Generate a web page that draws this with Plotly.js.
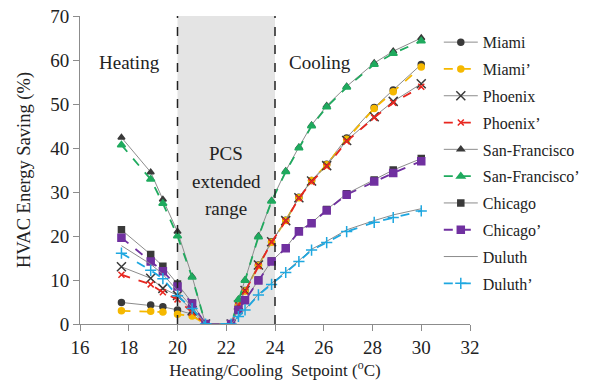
<!DOCTYPE html>
<html>
<head>
<meta charset="utf-8">
<script src="https://cdn.plot.ly/plotly-3.0.1.min.js"></script>
<style>html,body{margin:0;padding:0;background:#fff}#chart{width:589px;height:388px}</style>
</head>
<body>
<div id="chart"></div>
<script>
// Setpoints (°C): heating side then cooling side
const setpoints = [17.7, 18.9, 19.4, 20.0, 20.6, 21.15, 22.2, 22.5, 22.77, 23.32, 23.86, 24.44, 24.98, 25.5, 26.12, 26.94, 28.07, 28.85, 30.0];

const miami       = [4.9, 4.3, 3.9, 3.2, 2.2, 0, 0, 4.3, 7.6, 13.4, 18.7, 23.6, 28.8, 32.6, 36.3, 42.3, 49.2, 53.2, 59.0];
const miamiP      = [3.0, 2.9, 2.7, 2.2, 1.8, 0, 0, 4.2, 7.5, 13.3, 18.6, 23.5, 28.7, 32.6, 36.2, 42.0, 49.0, 52.8, 58.4];
const phoenix     = [13.0, 10.4, 8.1, 6.5, 3.0, 0, 0, 4.3, 7.6, 13.4, 18.7, 23.5, 28.7, 32.5, 36.0, 41.7, 47.1, 50.6, 54.6];
const phoenixP    = [11.2, 9.0, 7.2, 5.6, 2.6, 0, 0, 4.2, 7.4, 13.2, 18.6, 23.4, 28.6, 32.3, 35.8, 41.5, 46.9, 50.3, 53.9];
const sanFran     = [42.4, 34.5, 28.3, 21.0, 10.8, 0, 0, 5.6, 10.0, 20.0, 28.0, 34.8, 40.2, 45.2, 49.6, 54.0, 59.3, 62.0, 65.0];
const sanFranP    = [40.7, 32.9, 27.4, 20.0, 10.6, 0, 0, 5.5, 9.9, 19.8, 27.9, 34.6, 40.0, 45.0, 49.3, 53.8, 59.0, 61.5, 64.3];
const chicago     = [21.4, 15.8, 13.1, 9.1, 4.8, 0, 0, 3.3, 5.5, 10.0, 14.3, 17.3, 21.2, 23.0, 26.0, 29.6, 32.7, 35.0, 37.6];
const chicagoP    = [19.6, 14.2, 12.0, 8.5, 4.6, 0, 0, 3.2, 5.4, 9.9, 14.2, 17.2, 21.0, 22.9, 25.8, 29.4, 32.4, 34.3, 37.0];
const duluth      = [17.8, 13.6, 11.3, 7.6, 3.8, 0, 0, 1.8, 3.3, 6.8, 9.2, 11.9, 14.4, 17.0, 18.8, 21.4, 23.5, 24.8, 26.2];
const duluthP     = [16.1, 12.2, 10.3, 6.4, 3.5, 0, 0, 1.7, 3.2, 6.6, 9.0, 11.7, 14.2, 16.8, 18.5, 21.0, 23.1, 24.2, 25.7];

const xTicks = [16, 18, 20, 22, 24, 26, 28, 30, 32];
const yTicks = [0, 10, 20, 30, 40, 50, 60, 70];

const serif = 'Liberation Serif';
const solidGray = '#8c8c8c';
const dark = '#3a3a3a';

function tr(name, y, lineColor, dash, mSym, mColor, mSize, mode) {
  return {
    x: setpoints, y: y, name: name, legendgroup: name,
    mode: mode || 'lines+markers',
    line: {color: lineColor, width: dash === 'solid' ? 1 : 1.8, dash: dash},
    marker: {symbol: mSym, color: mColor, size: mSize, line: {color: mColor, width: 1.5}}
  };
}

const data = [
  tr('Miami', miami, solidGray, 'solid', 'circle', dark, 6),
  tr('Miami\u2019', miamiP, '#f5b800', 'dash', 'circle', '#f5b800', 6),
  tr('Phoenix', phoenix, solidGray, 'solid', 'x-thin-open', dark, 9),
  tr('Phoenix\u2019', phoenixP, '#e8261f', 'dash', 'x-thin-open', '#e8261f', 6),
  tr('San-Francisco', sanFran, solidGray, 'solid', 'triangle-up', dark, 6),
  tr('San-Francisco\u2019', sanFranP, '#1faa5e', 'dash', 'triangle-up', '#1faa5e', 7),
  tr('Chicago', chicago, solidGray, 'solid', 'square', dark, 6),
  tr('Chicago\u2019', chicagoP, '#7030a0', 'dash', 'square', '#7030a0', 7),
  tr('Duluth', duluth, solidGray, 'solid', 'circle', dark, 1, 'lines'),
  tr('Duluth\u2019', duluthP, '#1ea7e0', 'dash', 'cross-thin-open', '#1ea7e0', 8)
];

const layout = {
  width: 589, height: 388,
  margin: {l: 80, r: 119, t: 16, b: 64, autoexpand: false},
  paper_bgcolor: '#fff', plot_bgcolor: 'rgba(0,0,0,0)',
  font: {family: serif, color: '#222', size: 17},
  showlegend: true,
  legend: {x: 0.92, xanchor: 'left', y: 0.97, yanchor: 'top', bgcolor: 'rgba(0,0,0,0)',
           font: {family: serif, size: 16, color: '#222'}, tracegroupgap: 3, itemwidth: 34},
  xaxis: {range: [16, 32], tickvals: xTicks, ticktext: xTicks.map(String), showgrid: false, zeroline: false,
          showline: true, linecolor: '#8c8c8c', linewidth: 1, ticks: 'outside', ticklen: 6, tickcolor: '#8c8c8c',
          tickfont: {family: serif, size: 19, color: '#222'},
          title: {text: 'Heating/Cooling  Setpoint (<sup>o</sup>C)', font: {family: serif, size: 17, color: '#222'}, standoff: 2}},
  yaxis: {range: [0, 70], tickvals: yTicks, ticktext: yTicks.map(String), showgrid: false, zeroline: false,
          showline: true, linecolor: '#8c8c8c', linewidth: 1, ticks: 'outside', ticklen: 6, tickcolor: '#8c8c8c',
          tickfont: {family: serif, size: 19, color: '#222'},
          title: {text: 'HVAC Energy Saving (%)', font: {family: serif, size: 18.5, color: '#222'}, standoff: 14}},
  shapes: [
    {type: 'rect', xref: 'x', yref: 'y', x0: 20, x1: 24, y0: 0, y1: 70, fillcolor: '#e4e4e4', line: {width: 0}, layer: 'below'},
    {type: 'line', xref: 'x', yref: 'y', x0: 20, x1: 20, y0: 0, y1: 70, line: {color: '#222', width: 1.5, dash: 'dash'}},
    {type: 'line', xref: 'x', yref: 'y', x0: 24, x1: 24, y0: 0, y1: 70, line: {color: '#222', width: 1.5, dash: 'dash'}}
  ],
  annotations: [
    {x: 18.05, y: 59.5, xref: 'x', yref: 'y', text: 'Heating', showarrow: false, font: {family: serif, size: 19, color: '#222'}},
    {x: 25.85, y: 59.5, xref: 'x', yref: 'y', text: 'Cooling', showarrow: false, font: {family: serif, size: 19, color: '#222'}},
    {x: 22, y: 38.8, xref: 'x', yref: 'y', text: 'PCS', showarrow: false, font: {family: serif, size: 19, color: '#222'}},
    {x: 22, y: 32.5, xref: 'x', yref: 'y', text: 'extended', showarrow: false, font: {family: serif, size: 19, color: '#222'}},
    {x: 22, y: 26.3, xref: 'x', yref: 'y', text: 'range', showarrow: false, font: {family: serif, size: 19, color: '#222'}}
  ]
};

Plotly.newPlot('chart', data, layout, {displayModeBar: false, staticPlot: true});
</script>
</body>
</html>
